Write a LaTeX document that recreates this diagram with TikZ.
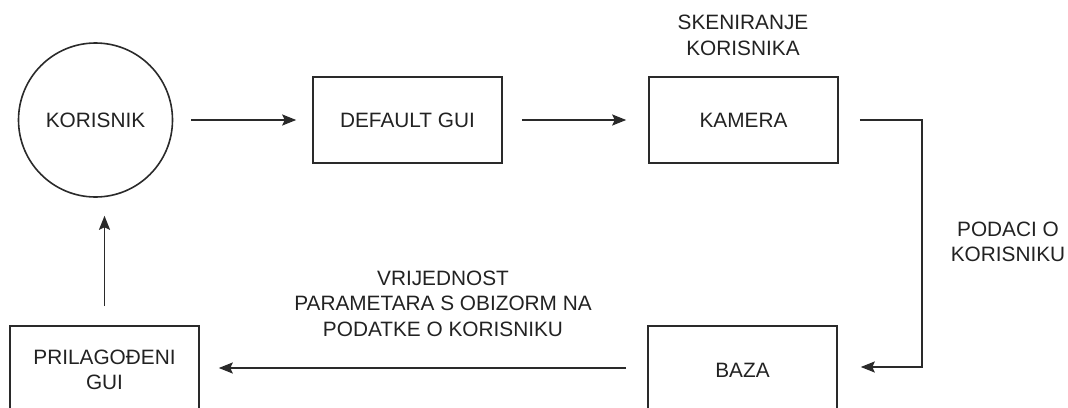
\documentclass[tikz,border=0pt]{standalone}
\usepackage{fontspec}
\setmainfont{Liberation Sans}
\usetikzlibrary{arrows.meta}
\definecolor{ink}{HTML}{222222}
\definecolor{linec}{HTML}{2A2A2A}
\tikzset{
  box/.style={draw=linec, line width=1.6pt, rectangle, minimum width=189pt, inner sep=0pt, text=ink, align=center,
    font=\fontsize{20.8}{25.5}\selectfont},
  roundbox/.style={draw=linec, line width=1.6pt, circle, minimum size=154pt, inner sep=0pt, text=ink,
    font=\fontsize{20.8}{25.5}\selectfont},
  lbl/.style={text=ink, align=center, inner sep=0pt, font=\fontsize{20.8}{25.5}\selectfont},
  arr/.style={draw=linec, line width=1.8pt, -{Stealth[length=14pt,width=11pt,inset=2.5pt]}}
}
\begin{document}
\begin{tikzpicture}[x=1pt,y=-1pt]
\useasboundingbox (0,0) rectangle (1068,407);
\clip (0,0) rectangle (1068,407);
\node[roundbox] (korisnik) at (95.5,120) {KORISNIK};
\node[box, minimum height=86pt] (default) at (407.5,120) {DEFAULT GUI};
\node[box, minimum height=86pt] (kamera) at (743.5,120) {KAMERA};
\node[box, minimum height=88pt] (baza) at (742.5,370) {BAZA};
\node[box, minimum height=88pt] (prilag) at (104.5,370) {PRILAGOĐENI\\GUI};
\node[lbl] (sken) at (743,35.5) {SKENIRANJE\\KORISNIKA};
\node[lbl] (podaci) at (1008,242) {PODACI O\\KORISNIKU};
\node[lbl] (vrij) at (443,303.5) {VRIJEDNOST\\PARAMETARA S OBIZORM NA\\PODATKE O KORISNIKU};
\coordinate (corner) at (922,120);
\draw[arr, shorten <=18pt, shorten >=16pt] (korisnik.east) -- (default.west);
\draw[arr, shorten <=19pt, shorten >=22pt] (default.east) -- (kamera.west);
\draw[arr] ([xshift=21pt]kamera.east) -- (corner) |- ([xshift=23pt,yshift=3pt]baza.east);
\draw[arr, shorten <=21pt, shorten >=19pt] ([yshift=2pt]baza.west) -- ([yshift=2pt]prilag.east);
\draw[arr] ([yshift=19pt]prilag.north) -- ([yshift=-18pt]prilag.north |- korisnik.south);
\end{tikzpicture}
\end{document}
